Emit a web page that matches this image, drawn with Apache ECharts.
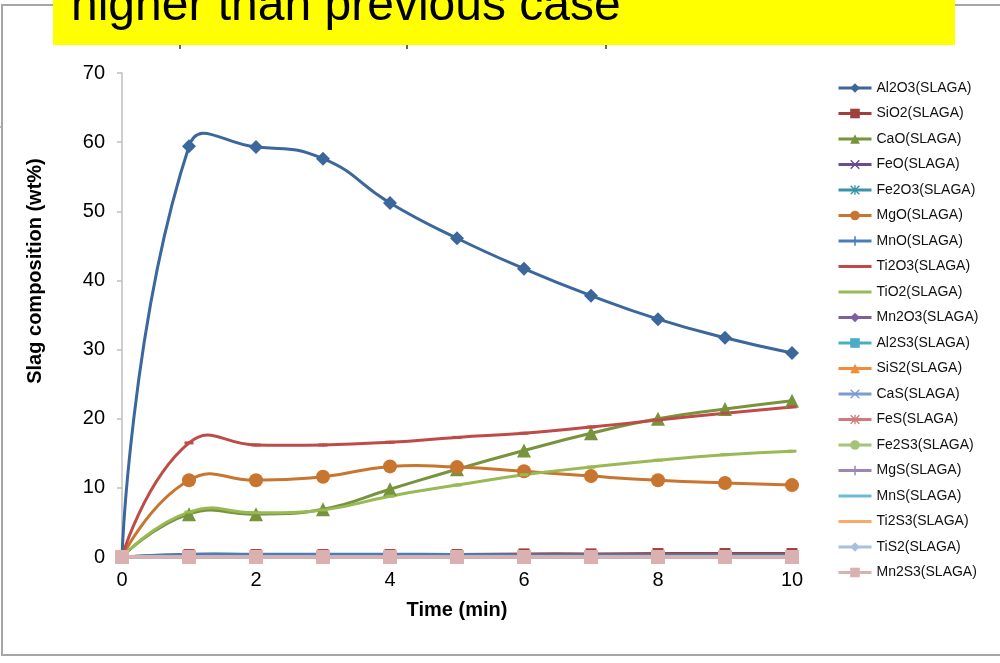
<!DOCTYPE html>
<html>
<head>
<meta charset="utf-8">
<script src="https://cdn.jsdelivr.net/npm/echarts@6/dist/echarts.min.js"></script>
<style>
html,body{margin:0;padding:0;background:#fff;}
#c{width:1000px;height:663px;}
</style>
</head>
<body>
<div id="c"></div>
<script>
// ---- data ----
const times = [0, 1, 2, 3, 4, 5, 6, 7, 8, 9, 10];
const xTicks = [0, 2, 4, 6, 8, 10];
const yTicks = [0, 10, 20, 30, 40, 50, 60, 70];
const seriesNames = ['Al2O3(SLAGA)','SiO2(SLAGA)','CaO(SLAGA)','FeO(SLAGA)','Fe2O3(SLAGA)','MgO(SLAGA)','MnO(SLAGA)','Ti2O3(SLAGA)','TiO2(SLAGA)','Mn2O3(SLAGA)','Al2S3(SLAGA)','SiS2(SLAGA)','CaS(SLAGA)','FeS(SLAGA)','Fe2S3(SLAGA)','MgS(SLAGA)','MnS(SLAGA)','Ti2S3(SLAGA)','TiS2(SLAGA)','Mn2S3(SLAGA)'];
const Al2O3 = [0, 59.4, 59.3, 57.6, 51.2, 46.1, 41.7, 37.8, 34.4, 31.7, 29.5];
const SiO2  = [0, 0.35, 0.35, 0.35, 0.35, 0.35, 0.45, 0.45, 0.5, 0.5, 0.5];
const CaO   = [0, 6.2, 6.2, 6.9, 9.8, 12.7, 15.4, 17.9, 20.0, 21.4, 22.6];
const FeO   = [0, 0.1, 0.1, 0.1, 0.1, 0.1, 0.15, 0.15, 0.15, 0.15, 0.15];
const Fe2O3 = [0, 0.05, 0.05, 0.05, 0.05, 0.05, 0.1, 0.1, 0.1, 0.1, 0.1];
const MgO   = [0, 11.1, 11.1, 11.6, 13.1, 13.0, 12.4, 11.7, 11.1, 10.7, 10.4];
const MnO   = [0, 0.4, 0.4, 0.4, 0.4, 0.35, 0.3, 0.3, 0.3, 0.3, 0.3];
const Ti2O3 = [0, 16.5, 16.2, 16.2, 16.6, 17.3, 17.9, 18.8, 19.8, 20.8, 21.7];
const TiO2  = [0, 6.5, 6.4, 6.8, 8.8, 10.4, 11.9, 13.0, 14.0, 14.8, 15.3];
const Mn2O3 = [0, 0.05, 0.05, 0.05, 0.05, 0.05, 0.05, 0.05, 0.05, 0.05, 0.05];
const Al2S3 = [0, 0.02, 0.02, 0.02, 0.02, 0.02, 0.02, 0.02, 0.02, 0.02, 0.02];
const SiS2  = [0, 0.01, 0.01, 0.01, 0.01, 0.01, 0.01, 0.01, 0.01, 0.01, 0.01];
const CaS   = [0, 0.02, 0.02, 0.02, 0.02, 0.02, 0.02, 0.02, 0.02, 0.02, 0.02];
const FeS   = [0, 0.01, 0.01, 0.01, 0.01, 0.01, 0.01, 0.01, 0.01, 0.01, 0.01];
const Fe2S3 = [0, 0.01, 0.01, 0.01, 0.01, 0.01, 0.01, 0.01, 0.01, 0.01, 0.01];
const MgS   = [0, 0.01, 0.01, 0.01, 0.01, 0.01, 0.01, 0.01, 0.01, 0.01, 0.01];
const MnS   = [0, 0.01, 0.01, 0.01, 0.01, 0.01, 0.01, 0.01, 0.01, 0.01, 0.01];
const Ti2S3 = [0, 0.0, 0.0, 0.0, 0.0, 0.0, 0.0, 0.0, 0.0, 0.0, 0.0];
const TiS2  = [0, 0.0, 0.0, 0.0, 0.0, 0.0, 0.0, 0.0, 0.0, 0.0, 0.0];
const Mn2S3 = [0, 0.0, 0.0, 0.0, 0.0, 0.0, 0.0, 0.0, 0.0, 0.0, 0.0];
const seriesValues = [Al2O3, SiO2, CaO, FeO, Fe2O3, MgO, MnO, Ti2O3, TiO2, Mn2O3, Al2S3, SiS2, CaS, FeS, Fe2S3, MgS, MnS, Ti2S3, TiS2, Mn2S3];
const titleText = 'higher than previous case';

// ---- styles ----
const colors = ['#3b679c','#a0403d','#77933c','#6a4d8c','#3a93a8','#c8752f','#4a7ebb','#be4b48','#98b954','#7d60a0',
                '#4bacc6','#f08c3a','#7c9bd1','#d07b79','#a4c477','#9c86b8','#6fbbd3','#f9a96b','#a9bfe0','#dbb0b0'];
const X = 'path://M0,1L1,0L5,4L9,0L10,1L6,5L10,9L9,10L5,6L1,10L0,9L4,5Z';
const PLUS = 'path://M4.2,0H5.8V4.2H10V5.8H5.8V10H4.2V5.8H0V4.2H4.2Z';
const AST = 'path://M0,1L1,0L5,4L9,0L10,1L6,5L10,9L9,10L5,6L1,10L0,9L4,5ZM4.3,0H5.7V10H4.3Z';
const symbols = ['diamond','rect','triangle',X,AST,'circle',PLUS,'rect','rect','diamond',
                 'rect','triangle',X,AST,'circle',PLUS,'rect','rect','diamond','rect'];
const symSizes = [14,11,14,8,8,14,9,[9,3],[9,3],8,9,9,8,8,9,9,[9,3],[9,3],8,14];
const plainLegend = ['Ti2O3(SLAGA)','TiO2(SLAGA)','MnS(SLAGA)','Ti2S3(SLAGA)'];

// smoothed curve (Excel-like, unconstrained bezier) drawn through the axes via api.coord
function curveSeries(i) {
  const vals = seriesValues[i];
  return {
    type: 'custom',
    silent: true,
    clip: false,
    z: 2,
    data: times.map((t, j) => [t, vals[j]]),
    encode: { x: 0, y: 1 },
    renderItem: function (params, api) {
      const j = params.dataIndex;
      const n = times.length;
      if (j >= n - 1) return null;
      const P = k => api.coord([times[k], vals[k]]);
      const p0 = j > 0 ? P(j - 1) : null, p1 = P(j), p2 = P(j + 1), p3 = (j + 2 < n) ? P(j + 2) : null;
      const s = 0.5;
      const d = (a, b) => Math.hypot(b[0] - a[0], b[1] - a[1]);
      let c1 = p1, c2 = p2;
      if (p0) {
        const tot = d(p0, p1) + d(p1, p2);
        const r = tot > 0 ? d(p1, p2) / tot : 0.5;
        c1 = [p1[0] + (p2[0] - p0[0]) * s * r, p1[1] + (p2[1] - p0[1]) * s * r];
      }
      if (p3) {
        const tot = d(p1, p2) + d(p2, p3);
        const r = tot > 0 ? d(p2, p3) / tot : 0.5;
        c2 = [p2[0] - (p3[0] - p1[0]) * s * (1 - r), p2[1] - (p3[1] - p1[1]) * s * (1 - r)];
      }
      return {
        type: 'bezierCurve',
        shape: { x1: p1[0], y1: p1[1], x2: p2[0], y2: p2[1], cpx1: c1[0], cpy1: c1[1], cpx2: c2[0], cpy2: c2[1] },
        style: { stroke: colors[i], lineWidth: 3, fill: 'none', lineCap: 'round' },
        z2: i
      };
    }
  };
}

const markerSeries = seriesNames.map((n, i) => ({
  name: n,
  type: 'line',
  data: times.map((t, j) => [t, seriesValues[i][j]]),
  symbol: symbols[i],
  symbolSize: symSizes[i],
  showAllSymbol: true,
  lineStyle: { width: 3, color: colors[i], opacity: 0 },
  itemStyle: { color: colors[i] },
  emphasis: { disabled: true },
  z: 3
}));
const curves = seriesNames.map((n, i) => curveSeries(i));

const legendData = seriesNames.map(n => plainLegend.includes(n)
  ? { name: n, itemStyle: { opacity: 0 } }
  : { name: n });

const chart = echarts.init(document.getElementById('c'), null, { renderer: 'canvas' });
const FONT = '"Liberation Sans", Arial, sans-serif';
chart.setOption({
  animation: false,
  backgroundColor: '#fff',
  textStyle: { fontFamily: FONT },
  grid: { left: 122, right: 208, top: 73, bottom: 106, containLabel: false },
  xAxis: {
    type: 'value', min: 0, max: 10, interval: 2,
    axisLine: { show: true, lineStyle: { color: '#bfbfbf', width: 1.5 } },
    axisTick: { show: false },
    splitLine: { show: false },
    axisLabel: { color: '#000', fontSize: 20, margin: 13, fontFamily: FONT,
      formatter: v => xTicks.includes(v) ? String(v) : '' }
  },
  yAxis: {
    type: 'value', min: 0, max: 70, interval: 10,
    axisLine: { show: true, lineStyle: { color: '#bfbfbf', width: 1.5 } },
    axisTick: { show: true, inside: false, length: 5, lineStyle: { color: '#bfbfbf', width: 1.5 } },
    splitLine: { show: false },
    axisLabel: { color: '#000', fontSize: 20, margin: 17, fontFamily: FONT,
      formatter: v => yTicks.includes(v) ? String(v) : '' }
  },
  legend: {
    orient: 'vertical', left: 832, top: 76,
    itemWidth: 33, itemHeight: 12, itemGap: 11.5,
    lineStyle: { width: 3, opacity: 1 },
    textStyle: { fontSize: 14, color: '#111', fontFamily: FONT, padding: [0, 0, 0, 0] },
    data: legendData,
    selectedMode: false
  },
  graphic: [
    { type: 'rect', shape: { x: 2, y: 5, width: 1010, height: 650 }, style: { fill: 'none', stroke: '#a6a6a6', lineWidth: 2 }, z: 0, silent: true },
    { type: 'line', shape: { x1: 0, y1: 127, x2: 3, y2: 127 }, style: { stroke: '#a6a6a6', lineWidth: 1.5 }, silent: true },
    { type: 'rect', shape: { x: 53, y: -5, width: 902, height: 50 }, style: { fill: '#ffff00' }, z: 100, silent: true },
    { type: 'text', left: 71, top: -17, z: 101, silent: true,
      style: { text: titleText, fontSize: 48, fontFamily: FONT, fill: '#000' } },
    { type: 'line', shape: { x1: 180, y1: 45, x2: 180, y2: 49 }, style: { stroke: '#333', lineWidth: 1.5 }, silent: true },
    { type: 'line', shape: { x1: 407, y1: 45, x2: 407, y2: 49 }, style: { stroke: '#333', lineWidth: 1.5 }, silent: true },
    { type: 'line', shape: { x1: 606, y1: 45, x2: 606, y2: 49 }, style: { stroke: '#333', lineWidth: 1.5 }, silent: true },
    { type: 'text', x: 457, y: 610, z: 50, silent: true,
      style: { text: 'Time (min)', fontSize: 20, fontWeight: 'bold', fontFamily: FONT, fill: '#000', align: 'center', verticalAlign: 'middle' } },
    { type: 'text', x: 35, y: 271, rotation: Math.PI / 2, z: 50, silent: true,
      style: { text: 'Slag composition (wt%)', fontSize: 20, fontWeight: 'bold', fontFamily: FONT, fill: '#000', align: 'center', verticalAlign: 'middle' } }
  ],
  series: curves.concat(markerSeries)
});
</script>
</body>
</html>
